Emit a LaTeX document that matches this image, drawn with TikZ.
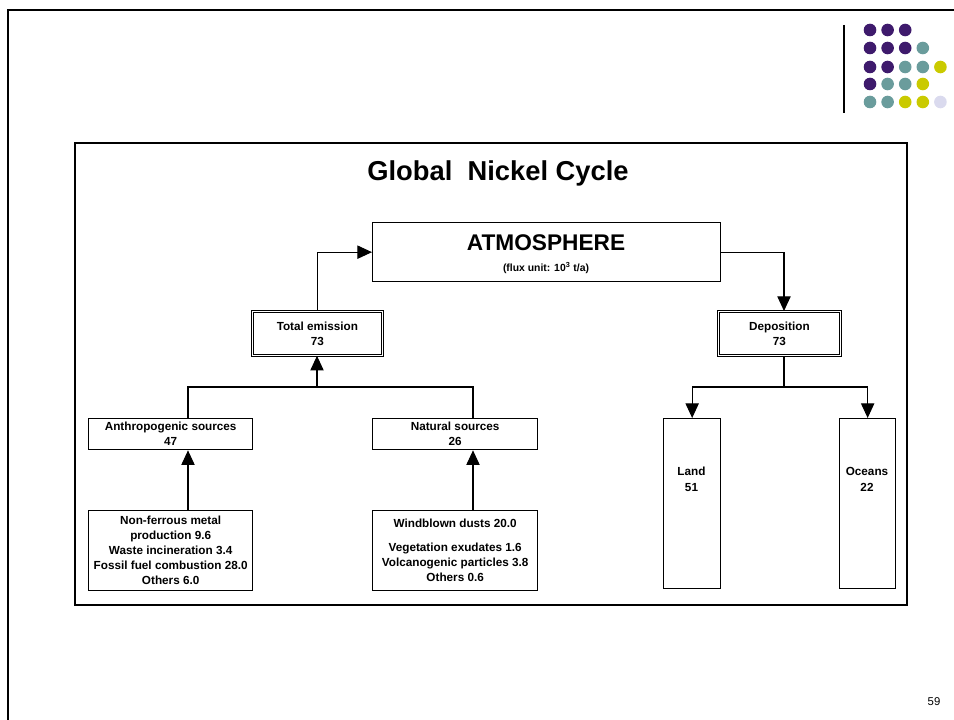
\documentclass[tikz,border=0pt]{standalone}
\usepackage{fontspec}
\setmainfont{Liberation Sans}
\usetikzlibrary{arrows.meta}

\definecolor{dotpurple}{HTML}{3E1A6C}
\definecolor{dotteal}{HTML}{6A9C9C}
\definecolor{dotyellow}{HTML}{CACA00}
\definecolor{dotlilac}{HTML}{DADAEE}

\begin{document}
\begin{tikzpicture}[x=0.75pt,y=-0.75pt,
  sz/.style 2 args={minimum width=#1*0.75pt, minimum height=#2*0.75pt},
  box/.style={draw, line width=1pt, inner sep=0pt, anchor=north west,
    align=center, font=\bfseries\fontsize{8.8}{11.3}\selectfont},
  dblbox/.style={box, line width=0.6pt, double, double distance=1.2pt},
  lbl/.style={inner sep=0pt, align=center, font=\bfseries\fontsize{8.8}{12}\selectfont},
  link/.style={line width=0.8pt},
  arr/.style={link, -{Triangle[length=11pt,width=10pt]}},
  frame/.style={line width=1.5pt}
]
\useasboundingbox (0,0) rectangle (954,720);

% slide border and logo rule
\draw[frame] (8,720) -- (8,10) -- (954,10);
\draw[line width=1.2pt] (844,25) -- (844,113);

% dot pattern in the corner
\foreach \row/\cols in {30/{dotpurple,dotpurple,dotpurple},
                        48/{dotpurple,dotpurple,dotpurple,dotteal},
                        67/{dotpurple,dotpurple,dotteal,dotteal,dotyellow},
                        84/{dotpurple,dotteal,dotteal,dotyellow},
                        102/{dotteal,dotteal,dotyellow,dotyellow,dotlilac}} {
  \foreach \c [count=\i from 0] in \cols {
    \fill[\c] (870+17.6*\i,\row) circle[radius=6.3];
  }
}

% diagram panel
\draw[frame] (75,143) rectangle (907,605);
\node[font=\bfseries\fontsize{20.5}{24}\selectfont] (title) at (498,173) {Global\ \ Nickel Cycle};

% atmosphere
\node[box, sz={348}{59}] (atm) at (372,222) {};
\node[lbl, font=\bfseries\fontsize{17}{20}\selectfont] (atmt) at (546,243) {ATMOSPHERE};
\node[lbl, font=\bfseries\fontsize{7.8}{10}\selectfont] (atmu) at (546,268) {(flux unit: 10\textsuperscript{3} t/a)};

% emission and deposition totals
\node[dblbox, sz={130}{44}] (tot) at (252,311) {Total emission\\73};
\node[dblbox, sz={122}{44}] (dep) at (718,311) {Deposition\\73};

% sources
\node[box, sz={164}{31}] (anth) at (88,418) {Anthropogenic sources\\47};
\node[box, sz={165}{31}] (nat) at (372,418) {Natural sources\\26};

\node[box, sz={164}{80}] (anthl) at (88,510)
  {Non-ferrous metal\\production 9.6\\Waste incineration 3.4\\Fossil fuel combustion 28.0\\Others 6.0};
\node[box, sz={165}{80}] (natl) at (372,510)
  {Windblown dusts 20.0\\[6.8pt]Vegetation exudates 1.6\\Volcanogenic particles 3.8\\Others 0.6};

% sinks
\node[box, sz={57}{170}] (land) at (663,418) {};
\node[lbl] (landt) at (691.5,479) {Land\\51};
\node[box, sz={56}{170}] (ocean) at (839,418) {};
\node[lbl] (oceant) at (867,479) {Oceans\\22};

% junction points of the branching lines
\coordinate (ja) at (188,387);
\coordinate (jt) at (317,387);
\coordinate (jn) at (473,387);
\coordinate (jd) at (784,387);

% connectors
\draw[arr] (tot.north) |- (atm.west);
\draw[arr] (atm.east) -| (jd |- dep.north);
\draw[arr] (jt) -- (jt |- tot.south);
\draw[link] (ja |- anth.north) -- (ja) -- (jn) -- (jn |- nat.north);
\draw[arr] (ja |- anthl.north) -- (ja |- anth.south);
\draw[arr] (jn |- natl.north) -- (jn |- nat.south);
\draw[link] (jd |- dep.south) -- (jd);
\draw[link] (land.north |- jd) -- (ocean.north |- jd);
\draw[arr] (land.north |- jd) -- (land.north);
\draw[arr] (ocean.north |- jd) -- (ocean.north);

% page number
\node[font=\fontsize{8.5}{10}\selectfont] (pg) at (934,702) {59};
\end{tikzpicture}
\end{document}
